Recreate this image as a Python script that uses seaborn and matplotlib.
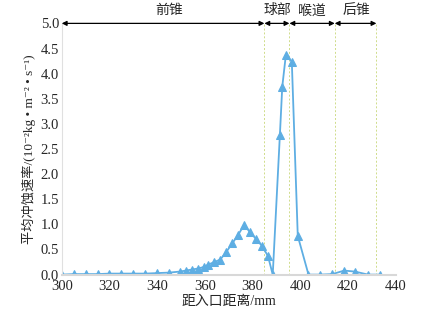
import numpy as np
import pandas as pd
import seaborn as sns
import matplotlib.pyplot as plt

# distance from inlet (mm) and mean erosion rate (10^-2 kg/(m^2 s))
distance = [300, 305, 310, 315, 320, 325, 330, 335, 340, 345,
            349.5, 352, 354.5, 357, 359.5, 361.5, 364, 366.5, 369, 371.5,
            374, 376.5, 379, 381.5, 384, 386.5, 388.5,
            391.5, 392.5, 394, 396.5, 399, 403.5, 408.5, 413.5,
            418.5, 423, 428.5, 433.5]
rate = [0.0, 0.01, 0.01, 0.01, 0.02, 0.02, 0.02, 0.02, 0.03, 0.04,
        0.06, 0.08, 0.1, 0.12, 0.15, 0.2, 0.25, 0.3, 0.45, 0.62,
        0.79, 0.99, 0.84, 0.71, 0.57, 0.37, 0.0,
        2.78, 3.74, 4.37, 4.24, 0.77, 0.0, 0.0, 0.01,
        0.08, 0.06, 0.0, 0.0]

# section boundaries and names
bounds = [300, 385, 395.5, 414.5, 432]
sections = ["前锥", "球部", "喉道", "后锥"]
label_x = [345, 390.5, 405, 423.5]

df = pd.DataFrame({"distance": distance, "rate": rate})

sns.set_style("white")
plt.rcParams['font.family'] = ['Liberation Serif', 'Noto Sans CJK SC', 'DejaVu Sans']
plt.rcParams['axes.unicode_minus'] = False

fig = plt.figure(figsize=(4.23, 3.16), dpi=100)
ax = fig.add_axes([0.146, 0.131, 0.789, 0.795])

sns.lineplot(data=df, x="distance", y="rate", ax=ax, color="#5eaee3",
             marker="^", markersize=5.5, markeredgecolor="#5eaee3", linewidth=1.3)

# dashed section lines
for b in bounds[1:]:
    ax.axvline(b, color="#cfdc8a", linestyle=(0, (2, 2)), linewidth=0.7, zorder=0)

# arrows and section names on top
for i, name in enumerate(sections):
    ax.annotate("", xy=(bounds[i], 5.0), xytext=(bounds[i + 1], 5.0),
                arrowprops=dict(arrowstyle="<|-|>", color="black", lw=0.9,
                                mutation_scale=7, shrinkA=0, shrinkB=0),
                annotation_clip=False)
    ax.text(label_x[i], 5.12, name, ha="center", va="bottom", fontsize=10,
            family=['Noto Sans CJK SC'])

ax.set_xlim(300, 440)
ax.set_ylim(0, 5)
ax.set_xticks(np.arange(300, 441, 20))
ax.set_yticks(np.arange(0, 5.01, 0.5))
ax.set_yticklabels([f"{v:.1f}" for v in np.arange(0, 5.01, 0.5)])
ax.tick_params(labelsize=10.5, length=0)
ax.tick_params(axis="x", pad=4)
ax.tick_params(axis="y", pad=2)

ax.set_xlabel("距入口距离/mm", fontsize=10, labelpad=1)
ax.set_ylabel("平均冲蚀速率/(10⁻²kg • m⁻² • s⁻¹)", fontsize=9.5, labelpad=3)

for s in ["top", "right"]:
    ax.spines[s].set_visible(False)
ax.spines["left"].set_color("#e0e0e0")
ax.spines["bottom"].set_color("#d8d8d8")
ax.spines["bottom"].set_linewidth(1.5)

fig.savefig("out.png", dpi=100)
